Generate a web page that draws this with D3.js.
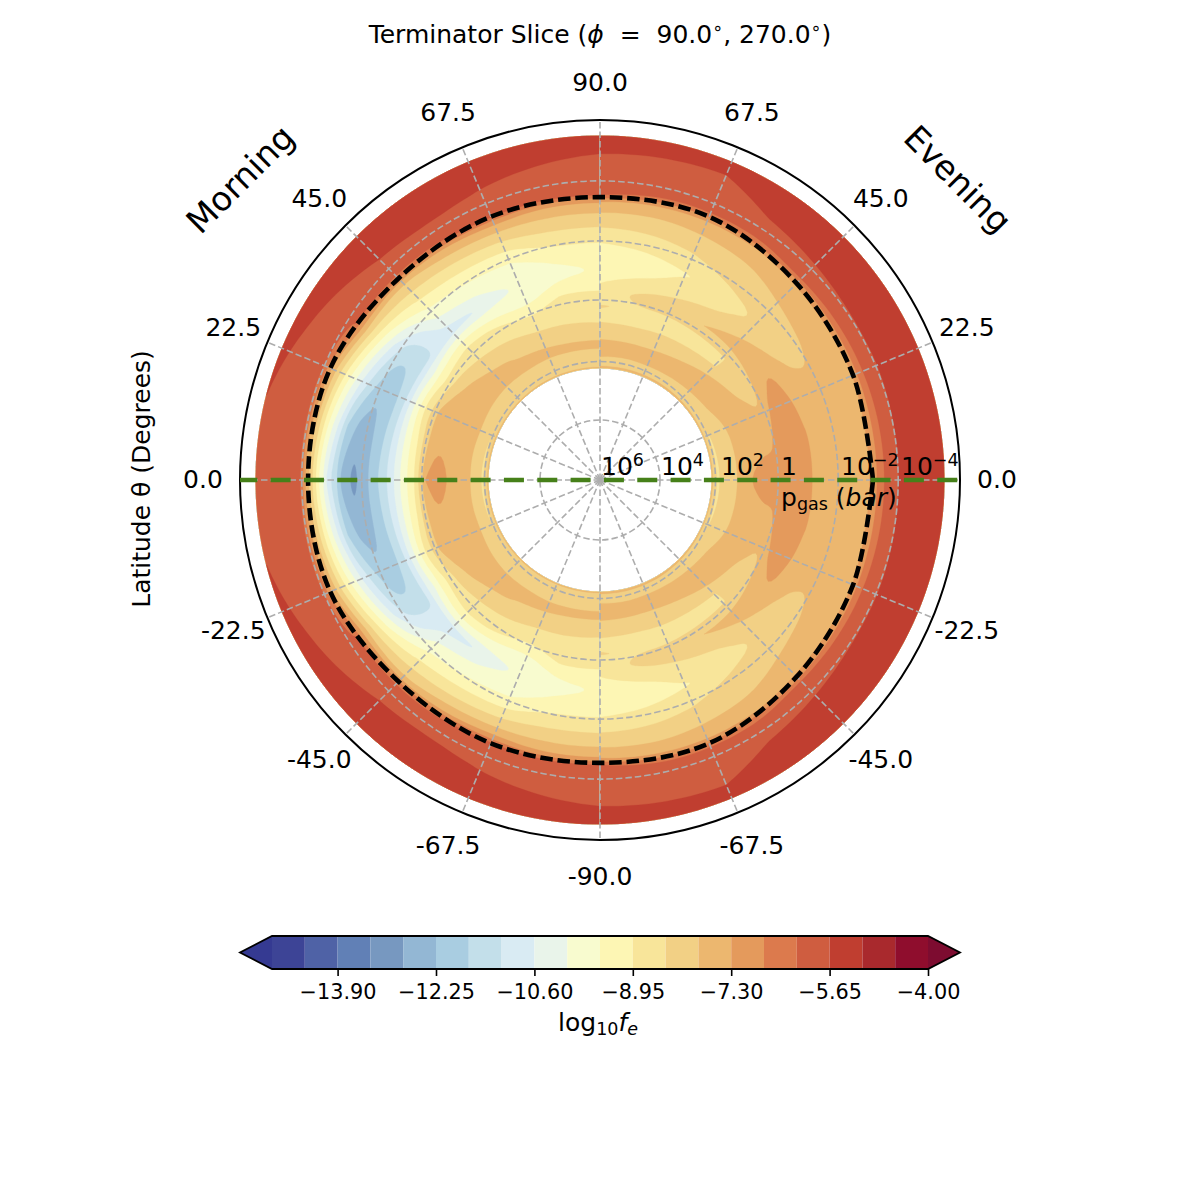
<!DOCTYPE html>
<html>
<head>
<meta charset="utf-8">
<script src="https://cdn.jsdelivr.net/npm/d3@7"></script>
<style>
body { margin: 0; background: #fff; }
text { font-family: "DejaVu Sans", sans-serif; fill: #000; }
</style>
</head>
<body>
<svg id="mainsvg" width="1200" height="1200"></svg>
<script>
// log10 pressure (bar) of the radial nodes, inside to outside
var logP = [4.27, 4.1, 3.75, 3.4, 3.0, 2.6, 2.2, 1.8, 1.4, 1.0, 0.6, 0.2, -0.2, -0.6, -0.9, -1.1, -1.3, -1.5, -1.65, -1.8, -2.0, -2.4, -3.0, -3.47];
// latitude rows of one hemisphere, the other one is its mirror image
var latitudes = [0, 12, 22.5, 33, 45, 56, 67.5, 78, 90];

// log10 fe, one row per latitude
var morning = [
	[-7.74,-8.51,-7.91,-7.63,-7.33,-6.97,-7.27,-9.01,-9.89,-10.93,-11.70,-12.36,-13.02,-12.47,-11.43,-10.71,-9.91,-8.95,-8.18,-7.47,-6.15,-5.98,-5.82,-5.71],
	[-7.74,-8.46,-7.91,-7.66,-7.41,-7.33,-7.74,-8.94,-9.94,-11.04,-11.87,-12.42,-12.47,-11.76,-10.66,-9.99,-9.28,-8.46,-7.80,-7.19,-6.15,-5.98,-5.82,-5.68],
	[-7.74,-8.40,-7.88,-7.69,-7.52,-7.47,-7.74,-8.62,-9.83,-11.15,-12.03,-12.17,-11.54,-10.60,-9.78,-9.23,-8.62,-7.96,-7.47,-6.86,-6.15,-5.98,-5.73,-5.54],
	[-7.74,-8.37,-7.93,-7.69,-7.55,-7.77,-8.35,-9.17,-10.16,-11.26,-11.59,-11.48,-10.66,-9.64,-8.84,-8.29,-7.63,-6.89,-6.17,-6.12,-6.04,-5.87,-5.57,-5.38],
	[-7.74,-8.35,-7.96,-7.71,-7.74,-8.13,-8.51,-8.84,-9.64,-10.93,-10.33,-9.83,-9.34,-8.79,-8.35,-8.07,-7.74,-6.75,-6.09,-6.01,-5.87,-5.65,-5.38,-5.16],
	[-7.74,-8.32,-7.91,-7.74,-7.91,-8.26,-8.62,-9.01,-9.83,-10.57,-10.05,-9.64,-9.12,-8.57,-8.10,-7.71,-7.30,-6.26,-6.15,-6.04,-5.87,-5.54,-5.32,-5.16],
	[-7.74,-8.29,-7.91,-7.77,-7.99,-8.46,-8.87,-9.42,-9.94,-10.02,-9.91,-9.53,-9.03,-8.40,-7.91,-7.52,-6.97,-6.09,-6.06,-6.01,-5.90,-5.68,-5.46,-5.32],
	[-7.74,-8.29,-7.88,-7.80,-8.13,-8.48,-8.68,-8.84,-9.31,-9.78,-9.47,-9.06,-8.65,-8.21,-7.85,-7.57,-7.19,-6.20,-6.12,-6.06,-5.95,-5.76,-5.51,-5.35],
	[-7.74,-8.29,-7.88,-7.80,-8.15,-8.57,-8.73,-8.87,-9.17,-9.45,-9.39,-9.06,-8.68,-8.21,-7.85,-7.57,-7.19,-6.20,-6.15,-6.09,-6.01,-5.84,-5.60,-5.43]
];
var evening = [
	[-7.74,-8.46,-8.24,-7.82,-7.30,-7.00,-7.05,-6.92,-6.81,-7.25,-7.52,-7.63,-7.69,-7.74,-7.47,-7.08,-6.59,-6.15,-5.98,-5.82,-5.60,-5.49,-5.40,-5.32],
	[-7.74,-8.46,-8.18,-7.82,-7.52,-7.47,-7.38,-7.03,-6.92,-7.25,-7.52,-7.63,-7.69,-7.69,-7.47,-7.08,-6.59,-6.15,-5.98,-5.82,-5.62,-5.49,-5.40,-5.29],
	[-7.74,-8.43,-8.10,-7.80,-7.60,-7.69,-7.82,-7.14,-7.03,-7.38,-7.57,-7.66,-7.63,-7.57,-7.47,-7.30,-6.64,-6.15,-5.98,-5.82,-5.65,-5.51,-5.40,-5.26],
	[-7.74,-8.24,-7.88,-7.63,-7.71,-7.93,-8.13,-7.58,-7.30,-7.74,-7.96,-7.99,-7.77,-7.63,-7.52,-7.30,-6.75,-6.15,-5.98,-5.82,-5.65,-5.49,-5.38,-5.24],
	[-7.74,-8.13,-7.80,-7.66,-7.85,-8.43,-8.43,-7.82,-7.80,-8.13,-8.35,-8.24,-7.93,-7.74,-7.60,-7.47,-7.03,-6.09,-6.04,-5.93,-5.71,-5.54,-5.38,-5.24],
	[-7.74,-8.04,-7.77,-7.71,-8.02,-8.54,-8.46,-7.85,-8.24,-8.54,-8.70,-8.37,-8.13,-7.93,-7.74,-7.55,-7.33,-6.37,-6.15,-6.09,-5.93,-5.60,-5.46,-5.32],
	[-7.74,-8.02,-7.74,-7.80,-8.15,-8.54,-8.48,-8.15,-8.43,-8.73,-9.00,-8.73,-8.37,-8.04,-7.80,-7.63,-7.41,-6.75,-6.17,-6.12,-6.04,-5.90,-5.65,-5.51],
	[-7.74,-8.02,-7.77,-7.80,-8.18,-8.62,-8.46,-8.26,-8.62,-9.12,-9.31,-8.87,-8.54,-8.15,-7.88,-7.63,-7.36,-6.64,-6.15,-6.09,-6.04,-5.90,-5.62,-5.49],
	[-7.74,-8.02,-7.74,-7.77,-8.13,-8.54,-8.37,-8.73,-8.98,-9.28,-9.42,-9.06,-8.65,-8.21,-7.88,-7.57,-7.25,-6.20,-6.15,-6.09,-6.01,-5.84,-5.60,-5.43]
];

// photosphere radius as log10 pressure at the latitudes below
var photoLat = [0, 22.5, 45, 67.5, 90];
var photoMorning = [-1.73, -1.73, -1.5, -1.5, -1.43];
var photoEvening = [-1.1, -1.13, -1.27, -1.5, -1.43];

// colour levels: -15 to -4 in 0.55 steps
var levels = d3.range(21).map(function(i) {return -15 + i * 0.55;});
var bandColors = ['#3d4496','#4f62a6','#6180b6','#7798c0','#93b7d4','#a9cde1','#c3dfea','#d9ebf3','#e9f4ea','#f8fbcf',
	'#fdf6b4','#f8e59a','#f2d085','#ecb76f','#e49a5c','#dc7a4d','#cf5d40','#c03e30','#a9292d','#8f0d2d'];
var extendLow = '#353a92', extendHigh = '#7d0c30';

var colorbarTicks = [-13.9, -12.25, -10.6, -8.95, -7.3, -5.65, -4];
// isobars are a little flattened: log10 p at the equator and at the pole
var gridEquator = [6, 4.15, 2.06, 0.06, -1.94];
var gridPole = [6, 4.05, 2, 0.03, -1.97];
var radialLabels = [[6,'10','6'], [4,'10','4'], [2,'10','2'], [0,'1',''], [-2,'10','\u22122'], [-4,'10','\u22124']];
var latTicks = [90, 67.5, 45, 22.5, 0, -22.5, -45, -67.5, -90];

var cx = 600, cy = 480, outerR = 360, labelR = 397;
var svg = d3.select('#mainsvg');
var rScale = d3.scaleLinear().domain([8, -4]).range([0, outerR]);

// side = -1 is the morning half on the left, side = 1 the evening half
function polar(side, lat, p) {
	var a = lat * Math.PI / 180, r = rScale(p);
	return [cx + side * r * Math.cos(a), cy - r * Math.sin(a)];
}

function drawHalf(rows, side) {
	var full = rows.slice(1).reverse().concat(rows);
	var lats = latitudes.slice(1).reverse().map(function(d) {return -d;}).concat(latitudes);
	var nx = logP.length, ny = lats.length;
	var pScale = d3.scaleLinear().domain(d3.range(nx)).range(logP).clamp(true);
	var latScale = d3.scaleLinear().domain(d3.range(ny)).range(lats).clamp(true);
	var contours = d3.contours().size([nx, ny]).thresholds(levels)(d3.merge(full));

	// ring in [p scaled to pixels, lat, on border], points on the grid border stay fixed
	function chaikin(ring) {
		var out = [];
		for (var i = 0; i < ring.length - 1; i++) {
			var a = ring[i], b = ring[i+1];
			if (a[2]) out.push(a);
			else out.push([a[0] * 0.75 + b[0] * 0.25, a[1] * 0.75 + b[1] * 0.25, false]);
			if (!b[2]) out.push([a[0] * 0.25 + b[0] * 0.75, a[1] * 0.25 + b[1] * 0.75, false]);
		}
		out.push(out[0]);
		return out;
	}
	function bendRing(ring) {
		var pts = ring.map(function(pt) {
			var border = pt[0] <= 0.5 || pt[0] >= nx - 0.5 || pt[1] <= 0.5 || pt[1] >= ny - 0.5;
			return [rScale(pScale(pt[0] - 0.5)), latScale(pt[1] - 0.5), border];
		});
		pts = chaikin(chaikin(pts));
		// straight edges in lat,p become arcs only if they are broken up first
		var out = [];
		for (var i = 0; i < pts.length - 1; i++) {
			var n = pts[i][2] && pts[i+1][2] ? 12 : 2;
			for (var k = 0; k < n; k++) {
				var r = pts[i][0] + (pts[i+1][0] - pts[i][0]) * k / n;
				var lat = pts[i][1] + (pts[i+1][1] - pts[i][1]) * k / n;
				out.push(polar(side, lat, rScale.invert(r)));
			}
		}
		out.push(out[0]);
		return out;
	}
	var path = d3.geoPath();
	svg.append('g').selectAll('path')
		.data(contours)
		.enter()
		.append('path')
		.attr('d', function(d) {
			return path({type: 'MultiPolygon', coordinates: d.coordinates.map(function(poly) {return poly.map(bendRing);})});
		})
		.attr('fill', function(d, i) {return bandColors[Math.min(i, 19)];})
		.attr('stroke', function(d, i) {return bandColors[Math.min(i, 19)];})
		.attr('stroke-width', 0.3);
}

drawHalf(morning, -1);
drawHalf(evening, 1);

// the grid
var grid = svg.append('g').attr('fill', 'none').attr('stroke', '#adadad').attr('stroke-width', 1.6).attr('stroke-dasharray', '6.5,3');
grid.selectAll('ellipse')
	.data(gridEquator)
	.enter()
	.append('ellipse')
	.attr('cx', cx).attr('cy', cy)
	.attr('rx', function(d) {return rScale(d);})
	.attr('ry', function(d, i) {return rScale(gridPole[i]);});
grid.selectAll('line')
	.data(d3.range(16))
	.enter()
	.append('line')
	.attr('x1', cx).attr('y1', cy)
	.attr('x2', function(d) {return cx + outerR * Math.cos(d * Math.PI / 8);})
	.attr('y2', function(d) {return cy - outerR * Math.sin(d * Math.PI / 8);});

svg.append('circle')
	.attr('cx', cx).attr('cy', cy).attr('r', outerR)
	.attr('fill', 'none').attr('stroke', '#000').attr('stroke-width', 2);

// photosphere, dashed black
var photoLine = d3.line().curve(d3.curveCatmullRom);
function photoPoints() {
	var pts = [];
	photoLat.forEach(function(lat, i) {pts.push(polar(1, lat, photoEvening[i]));});
	for (var i = photoLat.length - 2; i >= 0; i--) pts.push(polar(-1, photoLat[i], photoMorning[i]));
	for (var j = 1; j < photoLat.length; j++) pts.push(polar(-1, -photoLat[j], photoMorning[j]));
	for (var k = photoLat.length - 2; k >= 1; k--) pts.push(polar(1, -photoLat[k], photoEvening[k]));
	pts.push(pts[0]);
	return pts;
}
svg.append('path')
	.attr('d', photoLine(photoPoints()))
	.attr('fill', 'none').attr('stroke', '#000').attr('stroke-width', 4.6).attr('stroke-dasharray', '12.5,4.8');

// latitude tick labels
latTicks.forEach(function(lat) {
	var sides = Math.abs(lat) == 90 ? [1] : [-1, 1];
	sides.forEach(function(side) {
		var a = lat * Math.PI / 180;
		svg.append('text')
			.attr('x', cx + side * labelR * Math.cos(a))
			.attr('y', cy - labelR * Math.sin(a) + 7.5)
			.attr('text-anchor', 'middle')
			.attr('font-size', 25)
			.text(lat.toFixed(1));
	});
});

// pressure labels along the equator
radialLabels.forEach(function(d) {
	var t = svg.append('text')
		.attr('x', cx + rScale(d[0]) - 59)
		.attr('y', cy - 5)
		.attr('font-size', 25);
	t.append('tspan').text(d[1]);
	if (d[2]) t.append('tspan').attr('dy', -9).attr('font-size', 17.5).text(d[2]);
});

var pLabel = svg.append('text').attr('x', 781).attr('y', 506).attr('font-size', 25);
pLabel.append('tspan').text('p');
pLabel.append('tspan').attr('dy', 4).attr('font-size', 17.5).text('gas');
pLabel.append('tspan').attr('dy', -4).text(' (');
pLabel.append('tspan').attr('font-style', 'italic').text('bar');
pLabel.append('tspan').text(')');

// equator, dashed green
svg.append('line')
	.attr('x1', cx - outerR).attr('x2', cx + outerR)
	.attr('y1', cy).attr('y2', cy)
	.attr('stroke', '#468019').attr('stroke-width', 4.4)
	.attr('stroke-dasharray', '20,13.33').attr('stroke-dashoffset', 2.7);

// titles
var title = svg.append('text').attr('x', 600).attr('y', 43).attr('text-anchor', 'middle').attr('font-size', 25).attr('xml:space', 'preserve');
title.append('tspan').text('Terminator Slice (');
title.append('tspan').attr('font-style', 'italic').text('\u03d5');
title.append('tspan').text('  =  90.0');
title.append('tspan').attr('dy', -9).attr('font-size', 17.5).text('\u2218');
title.append('tspan').attr('dy', 9).text(', 270.0');
title.append('tspan').attr('dy', -9).attr('font-size', 17.5).text('\u2218');
title.append('tspan').attr('dy', 9).text(')');

svg.append('text')
	.attr('transform', 'translate(150,479) rotate(-90)')
	.attr('text-anchor', 'middle').attr('font-size', 25)
	.text('Latitude \u03b8 (Degrees)');
svg.append('text')
	.attr('transform', 'translate(240,179) rotate(-45)')
	.attr('text-anchor', 'middle').attr('dy', 12).attr('font-size', 33.6)
	.text('Morning');
svg.append('text')
	.attr('transform', 'translate(958,179) rotate(45)')
	.attr('text-anchor', 'middle').attr('dy', 12).attr('font-size', 33.6)
	.text('Evening');

// colorbar
var barX = d3.scaleLinear().domain([-15, -4]).range([272, 928]);
var barTop = 936, barBottom = 969, barMid = (barTop + barBottom) / 2;
var bar = svg.append('g');
bar.selectAll('rect')
	.data(bandColors)
	.enter()
	.append('rect')
	.attr('x', function(d, i) {return barX(levels[i]);})
	.attr('y', barTop)
	.attr('width', function(d, i) {return barX(levels[i+1]) - barX(levels[i]);})
	.attr('height', barBottom - barTop)
	.attr('fill', function(d) {return d;});
bar.append('path')
	.attr('d', d3.line()([[272, barTop], [240, barMid], [272, barBottom]]))
	.attr('fill', extendLow);
bar.append('path')
	.attr('d', d3.line()([[928, barTop], [960, barMid], [928, barBottom]]))
	.attr('fill', extendHigh);
bar.append('path')
	.attr('d', d3.line()([[272, barTop], [928, barTop], [960, barMid], [928, barBottom], [272, barBottom], [240, barMid]]) + 'Z')
	.attr('fill', 'none').attr('stroke', '#000').attr('stroke-width', 1.8);

var barAxis = d3.axisBottom(barX)
	.tickValues(colorbarTicks)
	.tickSize(7)
	.tickSizeOuter(0)
	.tickFormat(function(d) {return d3.format('.2f')(d).replace('-', '\u2212');});
var barG = svg.append('g').attr('transform', 'translate(0,' + barBottom + ')').call(barAxis);
barG.select('.domain').remove();
barG.selectAll('line').attr('stroke', '#000').attr('stroke-width', 1.6);
barG.selectAll('text').attr('font-size', 20.8).attr('font-family', '"DejaVu Sans"').attr('dy', '0.72em').attr('y', 15);

var barLabel = svg.append('text').attr('x', 598).attr('y', 1031).attr('text-anchor', 'middle').attr('font-size', 25);
barLabel.append('tspan').text('log');
barLabel.append('tspan').attr('dy', 4).attr('font-size', 17.5).text('10');
barLabel.append('tspan').attr('dy', -4).attr('font-style', 'italic').text('f');
barLabel.append('tspan').attr('dy', 4).attr('font-size', 17.5).attr('font-style', 'italic').text('e');
</script>
</body>
</html>
